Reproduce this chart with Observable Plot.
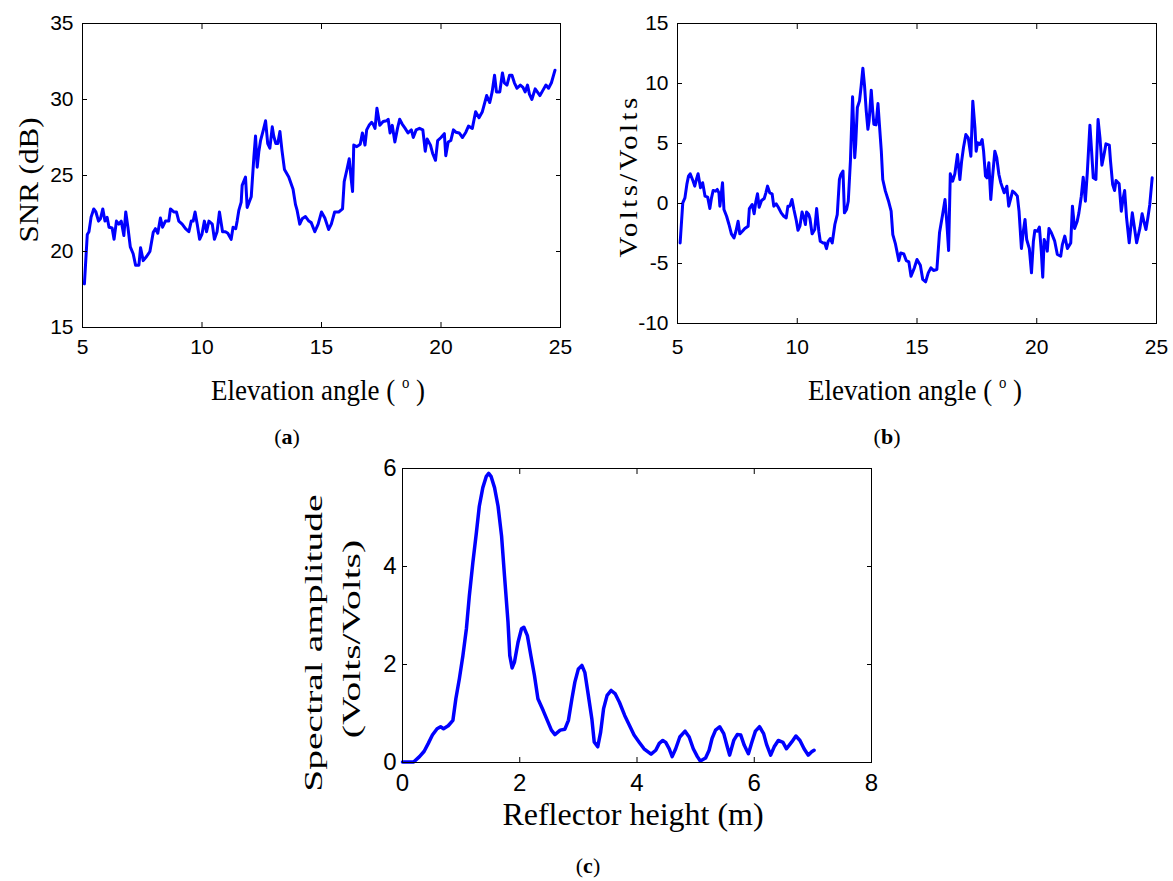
<!DOCTYPE html>
<html>
<head>
<meta charset="utf-8">
<script src="https://cdn.jsdelivr.net/npm/d3@7"></script>
<script src="https://cdn.jsdelivr.net/npm/@observablehq/plot@0.6"></script>
<style>
  html, body { margin: 0; padding: 0; background: #fff; }
  #fig { position: relative; width: 1173px; height: 881px; overflow: hidden; background: #fff; }
  .panel { position: absolute; }
  .t { position: absolute; font-family: "Liberation Serif", "Times New Roman", serif; color: #000;
       white-space: nowrap; line-height: 1; transform-origin: 50% 50%; }
  .t sup { font-size: 0.55em; vertical-align: 0.75em; }
</style>
</head>
<body>
<div id="fig"></div>
<script>
// ---------- Panel (a): SNR vs elevation angle ----------
const elevA = [
  5.08,5.2,5.27,5.36,5.47,5.56,5.67,5.75,5.85,5.94,
  6.03,6.11,6.24,6.32,6.42,6.52,6.62,6.73,6.81,6.9,
  7.0,7.12,7.22,7.36,7.43,7.54,7.68,7.82,7.96,8.05,
  8.15,8.26,8.35,8.47,8.61,8.68,8.82,8.93,9.03,9.17,
  9.31,9.45,9.55,9.63,9.71,9.8,9.9,10.0,10.1,10.19,
  10.29,10.43,10.52,10.63,10.73,10.8,10.86,10.98,11.08,11.22,
  11.3,11.41,11.47,11.54,11.64,11.68,11.82,11.89,12.0,12.06,
  12.17,12.24,12.31,12.38,12.45,12.56,12.66,12.75,12.84,12.94,
  13.0,13.09,13.17,13.26,13.35,13.45,13.63,13.81,13.91,13.98,
  14.09,14.19,14.33,14.47,14.57,14.72,14.86,15.0,15.14,15.3,
  15.41,15.55,15.72,15.88,15.95,16.06,16.16,16.24,16.3,16.35,
  16.48,16.62,16.71,16.82,16.89,16.99,17.1,17.17,17.24,17.32,
  17.44,17.58,17.72,17.79,17.87,17.96,18.07,18.18,18.27,18.37,
  18.5,18.62,18.76,18.84,18.96,19.1,19.24,19.34,19.42,19.56,
  19.65,19.77,19.86,20.0,20.14,20.2,20.3,20.41,20.52,20.62,
  20.76,20.9,21.04,21.15,21.31,21.45,21.59,21.73,21.91,22.04,
  22.14,22.24,22.32,22.46,22.57,22.65,22.76,22.87,22.97,23.07,
  23.18,23.32,23.43,23.52,23.62,23.7,23.8,23.94,24.03,24.14,
  24.28,24.39,24.5,24.62,24.77
];
const snrA = [
  17.87,21.12,21.3,22.26,22.8,22.6,22.0,22.15,22.8,22.0,
  22.25,21.6,21.55,20.8,22.0,21.8,22.0,21.05,22.6,21.6,
  20.3,19.85,19.1,19.1,20.25,19.4,19.67,20.0,21.27,21.5,
  21.2,22.2,21.6,22.0,22.0,22.8,22.6,22.6,22.0,21.8,
  21.5,21.3,22.0,22.0,22.6,21.8,20.8,21.15,22.0,21.3,
  22.0,21.8,20.8,21.3,22.6,21.9,21.3,21.3,21.2,20.8,
  21.6,21.5,22.0,22.7,23.25,24.35,24.9,22.9,23.35,23.6,
  26.2,27.6,25.55,26.6,27.3,27.96,28.6,27.1,26.8,28.2,
  27.6,27.1,27.1,27.9,26.6,25.4,24.9,24.1,23.1,22.7,
  21.8,22.15,22.3,22.0,21.9,21.3,21.8,22.6,22.2,21.45,
  21.8,22.6,22.6,22.8,24.6,25.36,26.1,24.8,23.95,27.0,
  26.9,27.05,27.8,27.0,28.0,28.3,28.5,28.35,28.1,29.43,
  28.3,28.55,28.6,28.7,27.8,28.3,27.2,28.1,28.7,28.4,
  28.1,27.8,28.0,27.5,28.0,28.1,28.0,26.6,27.4,27.0,
  26.45,26.0,27.3,27.5,27.75,26.3,27.2,27.3,28.0,27.85,
  27.8,27.5,27.85,28.25,28.1,29.2,28.8,29.2,30.26,29.8,
  30.5,31.6,30.5,30.5,31.75,31.1,30.95,31.6,31.6,31.1,
  30.74,30.95,30.8,30.5,30.95,30.35,30.0,30.7,30.5,30.26,
  30.65,30.95,30.74,31.1,31.93
];
const ticksElev = [5, 10, 15, 20, 25];
const ticksSNR = [15, 20, 25, 30, 35];

// ---------- Panel (b): detrended SNR (Volts/Volts) ----------
const elevB = [
  5.11,5.22,5.31,5.39,5.46,5.53,5.65,5.72,5.79,5.86,
  5.96,6.05,6.15,6.26,6.35,6.42,6.49,6.59,6.66,6.73,
  6.77,6.83,6.88,6.94,7.05,7.15,7.25,7.36,7.44,7.53,
  7.6,7.71,7.81,7.95,8.0,8.12,8.2,8.27,8.34,8.41,
  8.51,8.62,8.69,8.76,8.85,8.95,9.02,9.12,9.21,9.33,
  9.44,9.54,9.61,9.69,9.78,9.86,9.96,10.03,10.11,10.2,
  10.28,10.34,10.39,10.48,10.53,10.62,10.73,10.81,10.9,10.96,
  11.08,11.15,11.22,11.29,11.38,11.46,11.57,11.67,11.76,11.82,
  11.91,11.97,12.06,12.13,12.22,12.31,12.4,12.44,12.51,12.6,
  12.67,12.74,12.81,12.88,12.95,13.0,13.09,13.15,13.2,13.29,
  13.37,13.43,13.51,13.57,13.68,13.82,13.92,13.99,14.1,14.24,
  14.32,14.45,14.55,14.66,14.75,14.89,15.0,15.14,15.24,15.36,
  15.47,15.58,15.69,15.83,15.94,16.07,16.17,16.25,16.32,16.39,
  16.49,16.58,16.69,16.79,16.86,16.94,17.04,17.14,17.25,17.33,
  17.42,17.47,17.53,17.63,17.72,17.78,17.86,17.92,18.0,18.08,
  18.15,18.25,18.33,18.42,18.5,18.64,18.75,18.83,18.92,18.99,
  19.08,19.19,19.26,19.36,19.44,19.51,19.58,19.69,19.78,19.86,
  19.92,20.03,20.11,20.19,20.25,20.31,20.39,20.44,20.51,20.61,
  20.75,20.86,21.0,21.07,21.17,21.28,21.42,21.49,21.58,21.69,
  21.76,21.86,21.94,22.03,22.11,22.22,22.29,22.36,22.47,22.56,
  22.64,22.72,22.81,22.89,23.03,23.08,23.17,23.25,23.31,23.44,
  23.53,23.61,23.67,23.75,23.86,23.99,24.06,24.17,24.31,24.4,
  24.47,24.56,24.64,24.72,24.82
];
const voltsB = [
  -3.29,0.06,0.47,1.59,2.28,2.48,1.87,1.45,2.0,2.48,
  1.31,1.73,0.61,0.53,-0.42,0.47,1.09,1.03,1.17,0.89,
  -0.22,0.81,1.73,-0.5,-1.06,-1.75,-2.53,-2.87,-2.31,-1.48,
  -2.53,-2.31,-2.09,-1.89,-0.42,-0.08,-0.86,0.14,0.81,-0.31,
  0.25,0.42,0.89,1.45,0.89,0.81,-0.22,-0.03,-0.31,-0.78,
  -1.06,-1.2,-0.22,-0.22,0.33,-0.5,-1.42,-2.23,-1.89,-0.7,
  -1.2,-1.75,-0.7,-0.92,-1.25,-2.53,-2.17,-0.42,-2.31,-3.15,
  -3.29,-3.29,-3.76,-3.15,-2.92,-3.29,-1.75,-0.92,2.0,2.42,
  2.7,-0.78,-0.5,0.19,3.54,8.89,3.82,4.93,8.0,8.55,
  9.81,11.28,9.81,7.72,6.18,6.88,9.44,7.72,6.6,6.55,
  8.33,6.6,4.37,2.0,1.03,0.14,-0.64,-2.59,-3.37,-4.76,
  -4.12,-4.2,-4.76,-4.87,-6.06,-5.36,-4.67,-5.14,-6.33,-6.53,
  -5.78,-5.36,-5.58,-5.5,-2.44,-0.92,0.33,-1.75,-3.92,2.47,
  1.86,2.47,4.08,2.0,3.47,4.64,5.75,5.47,3.94,8.53,
  6.31,4.36,5.06,4.92,5.33,4.36,2.28,2.14,3.39,0.33,
  2.14,4.36,3.81,2.42,1.72,0.89,1.44,-0.22,0.47,1.03,
  0.89,0.61,-0.64,-3.75,-2.31,-1.33,-3.0,-3.75,-5.78,-3.14,
  -2.25,-2.31,-1.97,-3.97,-6.14,-3.0,-3.42,-3.97,-2.08,-2.44,
  -3.14,-4.25,-4.39,-3.42,-2.72,-3.75,-3.28,-0.22,-2.08,-1.47,
  -0.78,0.61,2.19,0.19,2.56,6.53,4.36,2.14,2.0,7.0,
  5.47,3.19,4.08,4.97,4.86,3.53,1.58,1.08,1.92,1.64,
  -0.64,0.47,1.08,-1.19,-3.28,-0.78,-1.75,-3.28,-2.03,-0.86,
  -1.47,-2.17,-1.19,-0.08,2.14
];
const ticksVolts = [-10, -5, 0, 5, 10, 15];

// ---------- Panel (c): Lomb-Scargle spectrum ----------
const heightC = [
  0,0.19,0.29,0.37,0.44,0.51,0.59,0.65,0.7,0.78,
  0.86,0.91,0.97,1.03,1.09,1.14,1.2,1.26,1.31,1.37,
  1.43,1.47,1.51,1.57,1.63,1.69,1.74,1.8,1.83,1.87,
  1.91,1.97,2.03,2.07,2.13,2.19,2.25,2.31,2.4,2.47,
  2.54,2.6,2.69,2.77,2.83,2.89,2.94,3.0,3.06,3.11,
  3.17,3.23,3.27,3.33,3.38,3.43,3.49,3.56,3.63,3.7,
  3.79,3.87,3.95,4.04,4.12,4.24,4.32,4.38,4.44,4.49,
  4.55,4.6,4.66,4.73,4.82,4.89,4.96,5.03,5.08,5.17,
  5.23,5.28,5.34,5.41,5.48,5.54,5.58,5.65,5.71,5.77,
  5.83,5.9,5.96,6.02,6.09,6.16,6.21,6.28,6.34,6.41,
  6.49,6.55,6.64,6.71,6.78,6.85,6.92,6.98,7.02
];
const ampC = [
  0.01,0.01,0.12,0.23,0.39,0.56,0.69,0.73,0.69,0.75,
  0.86,1.3,1.71,2.18,2.73,3.4,4.08,4.69,5.23,5.61,
  5.84,5.9,5.84,5.61,5.23,4.62,3.81,2.86,2.18,1.93,
  2.05,2.45,2.73,2.76,2.59,2.18,1.78,1.3,1.06,0.86,
  0.66,0.57,0.66,0.68,0.86,1.3,1.64,1.91,1.98,1.84,
  1.37,0.89,0.42,0.32,0.62,1.1,1.37,1.47,1.4,1.23,
  0.96,0.76,0.56,0.41,0.28,0.17,0.25,0.39,0.45,0.41,
  0.28,0.12,0.28,0.52,0.64,0.52,0.28,0.12,0.03,0.09,
  0.25,0.49,0.66,0.73,0.59,0.32,0.15,0.45,0.57,0.56,
  0.35,0.18,0.42,0.64,0.73,0.59,0.37,0.15,0.32,0.45,
  0.41,0.28,0.42,0.54,0.45,0.28,0.15,0.22,0.25
];
const ticksHeight = [0, 2, 4, 6, 8];
const ticksAmp = [0, 2, 4, 6];

// ---------- Texts ----------
const labelElev = 'Elevation angle (&nbsp;<sup>o</sup>&nbsp;)';
const labelSNR = "SNR (dB)";
const labelVolts = "Volts/Volts";
const labelHeight = "Reflector height (m)";
const labelAmp1 = "Spectral amplitude";
const labelAmp2 = "(Volts/Volts)";

const fig = document.getElementById("fig");
const fmt = d => String(d);
const blue = "#0000ff";

function makePanel({xv, yv, xDomain, yDomain, xTicks, yTicks, left, top, width, height,
                    mL, mR, mT, mB, fontSize, padX, padY, lineWidth}) {
  const data = xv.map((x, i) => ({x, y: yv[i]}));
  const p = Plot.plot({
    width, height,
    marginLeft: mL, marginRight: mR, marginTop: mT, marginBottom: mB,
    x: {domain: xDomain},
    y: {domain: yDomain},
    style: {fontFamily: '"Liberation Sans", Arial, sans-serif', fontSize: fontSize + "px",
            color: "#000", background: "transparent", overflow: "visible"},
    marks: [
      Plot.line(data, {x: "x", y: "y", stroke: blue, strokeWidth: lineWidth,
                       strokeLinejoin: "round", strokeLinecap: "round"}),
      Plot.frame({stroke: "#000", strokeWidth: 1}),
      Plot.axisX({ticks: xTicks, anchor: "bottom", tickSize: 0, tickPadding: padX, tickFormat: fmt, label: null}),
      Plot.axisX({ticks: xTicks, anchor: "bottom", tickSize: -5, tickFormat: () => "", label: null}),
      Plot.axisX({ticks: xTicks, anchor: "top", tickSize: -5, tickFormat: () => "", label: null}),
      Plot.axisY({ticks: yTicks, anchor: "left", tickSize: 0, tickPadding: padY, tickFormat: fmt, label: null}),
      Plot.axisY({ticks: yTicks, anchor: "left", tickSize: -5, tickFormat: () => "", label: null}),
      Plot.axisY({ticks: yTicks, anchor: "right", tickSize: -5, tickFormat: () => "", label: null})
    ]
  });
  p.classList.add("panel");
  p.style.left = left + "px";
  p.style.top = top + "px";
  fig.appendChild(p);
}

makePanel({xv: elevA, yv: snrA, xDomain: [5, 25], yDomain: [15, 35], xTicks: ticksElev, yTicks: ticksSNR,
  left: 0, top: 0, width: 580, height: 370, mL: 82, mR: 20, mT: 23, mB: 43, fontSize: 21, padX: 12, padY: 9, lineWidth: 3});

makePanel({xv: elevB, yv: voltsB, xDomain: [5, 25], yDomain: [-10, 15], xTicks: ticksElev, yTicks: ticksVolts,
  left: 600, top: 0, width: 573, height: 370, mL: 77, mR: 17, mT: 23, mB: 47, fontSize: 21, padX: 16, padY: 9, lineWidth: 3});

makePanel({xv: heightC, yv: ampC, xDomain: [0, 8], yDomain: [0, 6], xTicks: ticksHeight, yTicks: ticksAmp,
  left: 300, top: 440, width: 590, height: 372, mL: 102, mR: 19, mT: 28, mB: 50, fontSize: 24, padX: 11, padY: 6, lineWidth: 3.5});

function addText(html, x, y, size, extra = "", style = "") {
  const d = document.createElement("div");
  d.className = "t";
  d.innerHTML = html;
  d.style.fontSize = size + "px";
  d.style.left = x + "px";
  d.style.top = y + "px";
  d.style.transform = "translate(-50%, -50%) " + extra;
  if (style) d.style.cssText += style;
  fig.appendChild(d);
}

// axis titles
addText(labelElev, 318, 390, 29, "scaleX(0.93)");
addText(labelElev, 915, 390, 29, "scaleX(0.93)");
addText(labelSNR, 29, 180, 27, "rotate(-90deg) scaleX(1.15)");
addText(labelVolts, 628, 176, 25, "rotate(-90deg) scaleX(1.15)", "letter-spacing:3px;");
addText(labelHeight, 633, 814, 32);
addText(labelAmp1, 313, 643, 25, "rotate(-90deg) scaleX(1.58)");
addText(labelAmp2, 351, 639, 25, "rotate(-90deg) scaleX(1.58)");

// panel labels
addText("(<b>a</b>)", 287, 437, 22);
addText("(<b>b</b>)", 887, 437, 22);
addText("(<b>c</b>)", 588, 866, 22);
</script>
</body>
</html>
